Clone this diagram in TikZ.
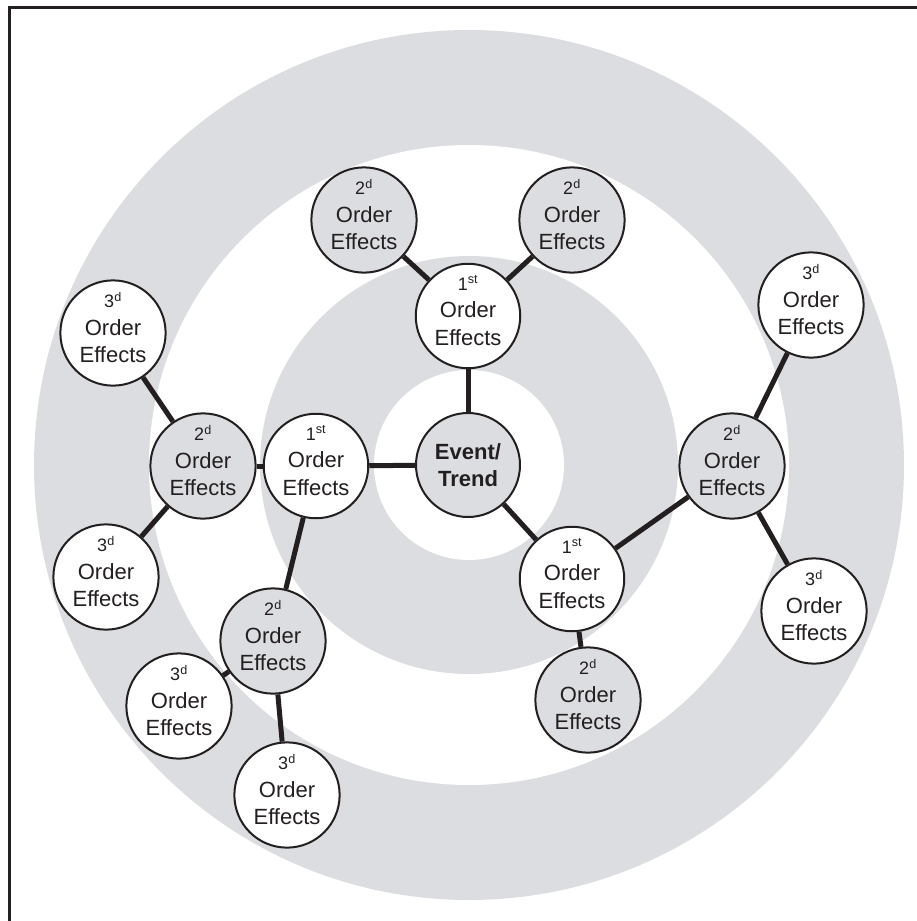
\documentclass[tikz,border=0pt]{standalone}
\usepackage{fontspec}
\setmainfont{Liberation Sans}
\definecolor{ring}{RGB}{220,221,225}
\definecolor{ink}{RGB}{35,31,32}
% three-line label: ordinal with superscript, then "Order Effects"
\newcommand{\ordtext}[2]{{\fontsize{18}{20}\selectfont #1\textsuperscript{#2}}\\Order\\Effects\rule[-11pt]{0pt}{1pt}}
\begin{document}
\begin{tikzpicture}[x=1pt,y=-1pt,
  effect/.style={circle, draw=ink, line width=2pt, minimum size=104pt, inner sep=0pt,
    align=center, text=ink, font=\fontsize{22}{27.5}\selectfont},
  grayfx/.style={effect, fill=ring},
  whitefx/.style={effect, fill=white},
  link/.style={draw=ink, line width=5pt}]
\useasboundingbox (0,0) rectangle (917,921);
% concentric target rings
\fill[ring] (469,465) circle (435);
\fill[white] (469,465) circle (320);
\fill[ring] (469,465) circle (209);
\fill[white] (469,465) circle (95);
% frame edges
\draw[ink, line width=3pt] (9.5,921) -- (9.5,7.5) -- (917,7.5);
% centre
\node[grayfx, font=\fontsize{22}{27.5}\selectfont\bfseries] (ev) at (468,465) {Event/\\Trend};
% first order
\node[whitefx] (f1) at (468,316) {\ordtext{1}{st}};
\node[whitefx] (f2) at (316,466) {\ordtext{1}{st}};
\node[whitefx] (f3) at (572,579) {\ordtext{1}{st}};
% second order
\node[grayfx] (s1) at (364,220) {\ordtext{2}{d}};
\node[grayfx] (s2) at (572,220) {\ordtext{2}{d}};
\node[grayfx] (s3) at (203,466) {\ordtext{2}{d}};
\node[grayfx] (s4) at (273,641) {\ordtext{2}{d}};
\node[grayfx] (s5) at (588,700) {\ordtext{2}{d}};
\node[grayfx] (s6) at (732,466) {\ordtext{2}{d}};
% third order
\node[whitefx] (t1) at (113,333) {\ordtext{3}{d}};
\node[whitefx] (t2) at (106,577) {\ordtext{3}{d}};
\node[whitefx] (t3) at (179,706) {\ordtext{3}{d}};
\node[whitefx] (t4) at (287,795) {\ordtext{3}{d}};
\node[whitefx] (t5) at (811,305) {\ordtext{3}{d}};
\node[whitefx] (t6) at (814,611) {\ordtext{3}{d}};
% connectors
\draw[link] (ev) -- (f1);
\draw[link] (ev) -- (f2);
\draw[link] (ev) -- (f3);
\draw[link] (f1) -- (s1);
\draw[link] (f1) -- (s2);
\draw[link] (f2) -- (s3);
\draw[link] (f2) -- (s4);
\draw[link] (f3) -- (s5);
\draw[link] (f3) -- (s6);
\draw[link] (s3) -- (t1);
\draw[link] (s3) -- (t2);
\draw[link] (s4) -- (t3);
\draw[link] (s4) -- (t4);
\draw[link] (s6) -- (t5);
\draw[link] (s6) -- (t6);
\end{tikzpicture}
\end{document}
